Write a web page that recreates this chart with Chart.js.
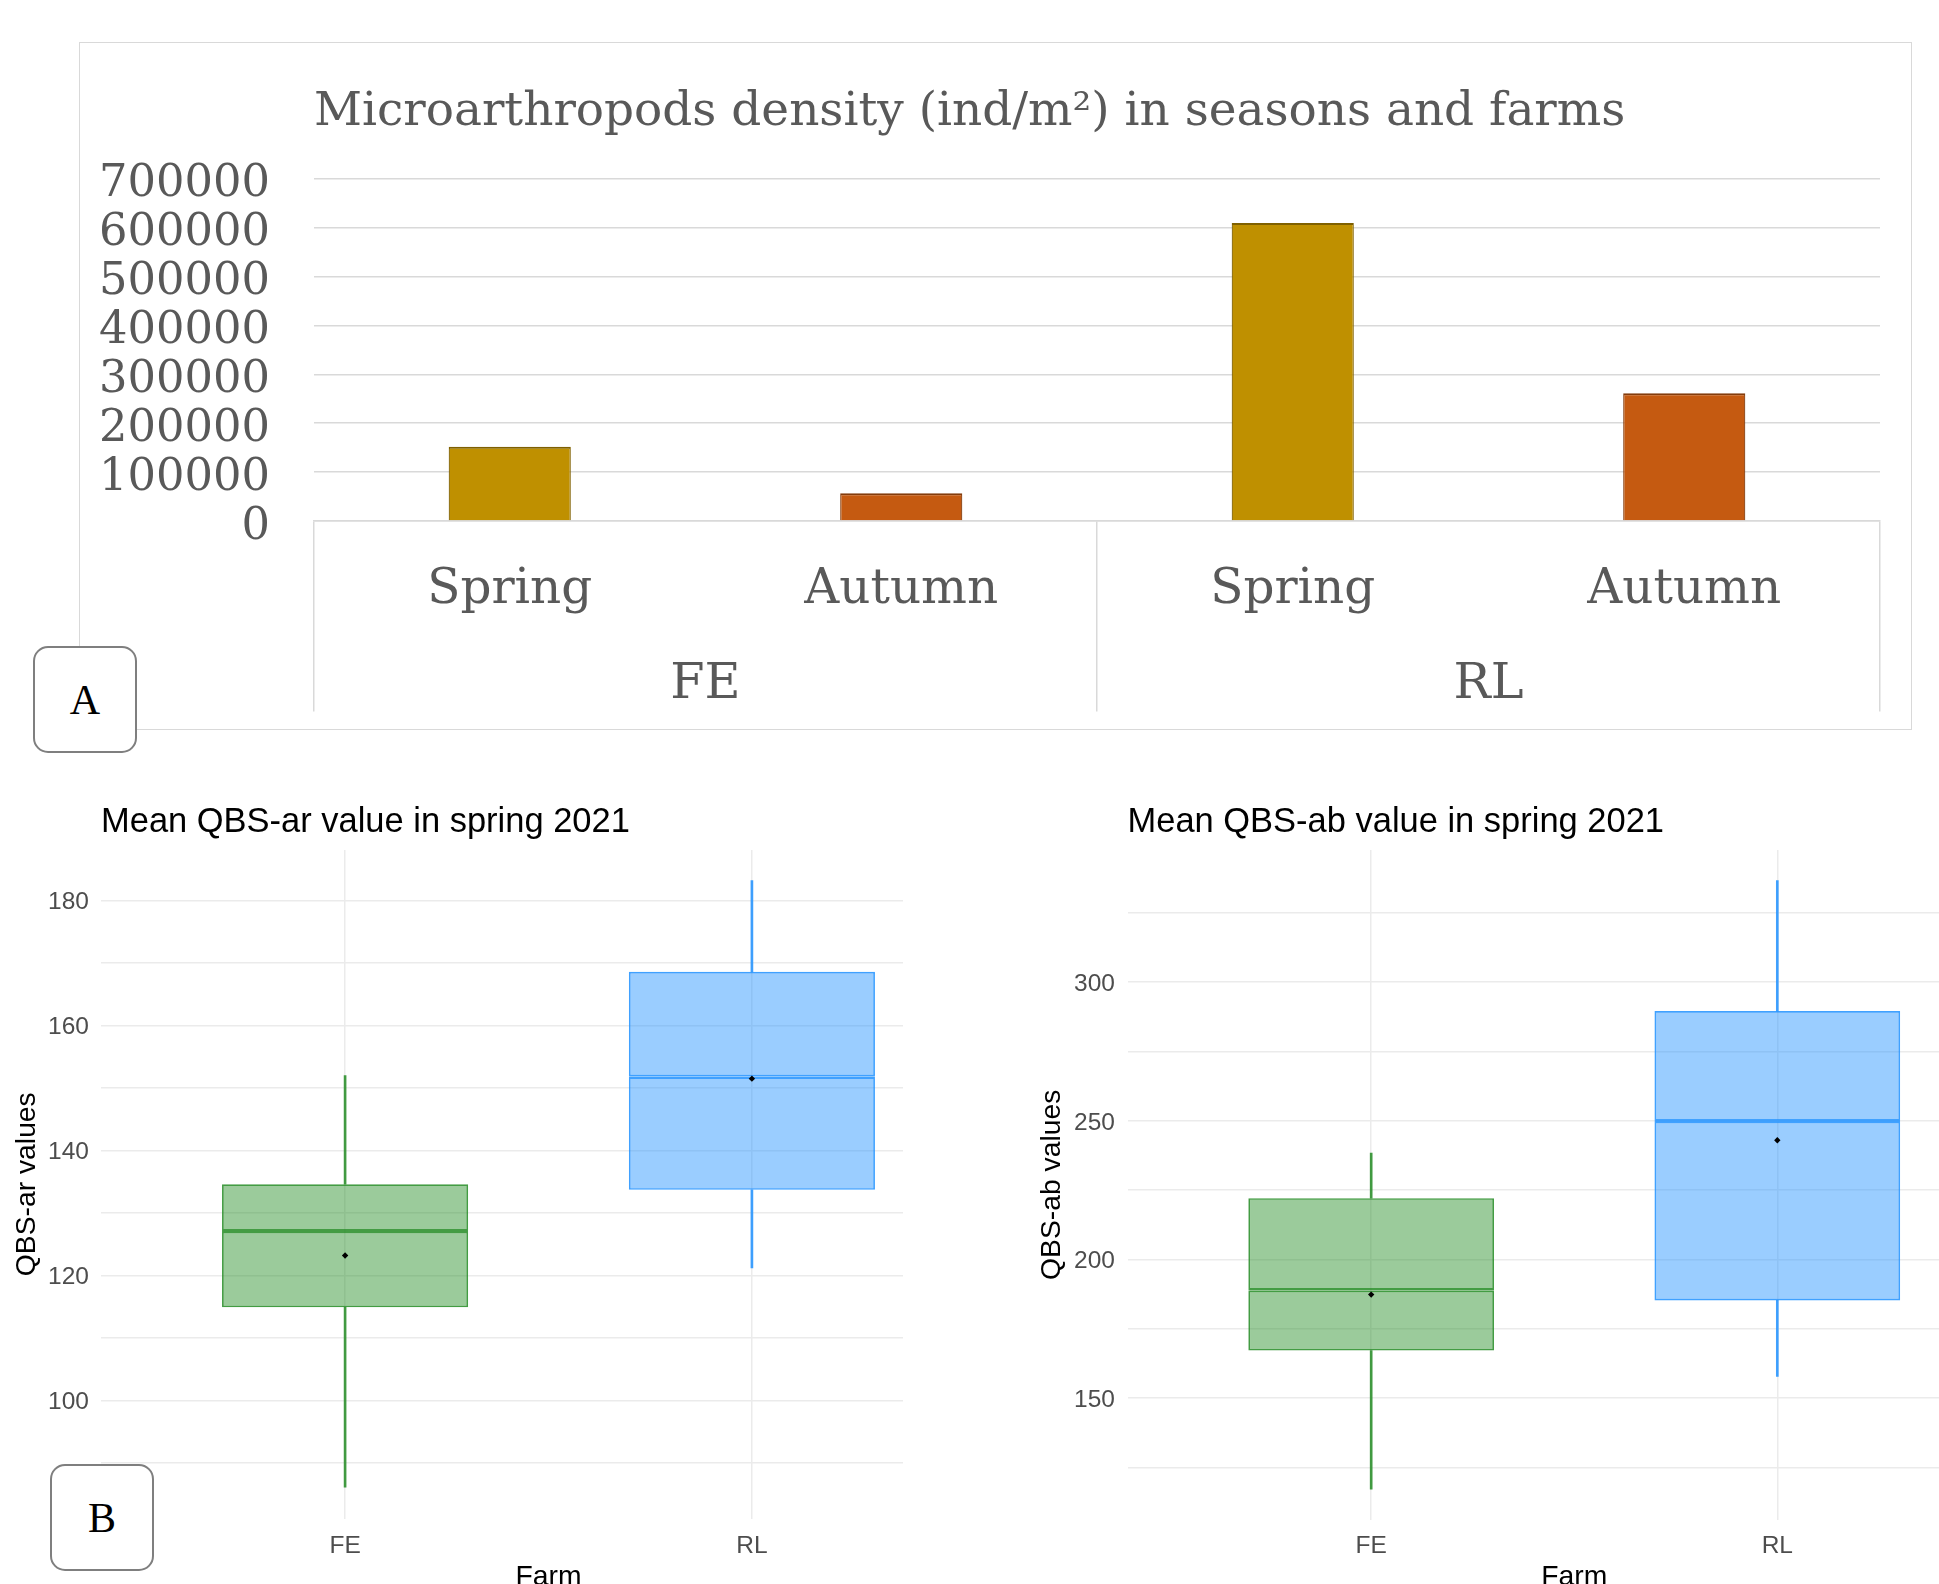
<!DOCTYPE html>
<html>
<head>
<meta charset="utf-8">
<script src="https://cdn.jsdelivr.net/npm/chart.js@4.4.1/dist/chart.umd.min.js"></script>
<style>
  html, body { margin: 0; padding: 0; background: #ffffff; }
  body { width: 1939px; height: 1584px; overflow: hidden; position: relative; }
  .abs { position: absolute; }
  #frameA { left: 79px; top: 42px; width: 1833px; height: 688px; border: 1.5px solid #d9d9d9; box-sizing: border-box; }
  .tag { position: absolute; border: 2.5px solid #7f7f7f; border-radius: 15px; background: #fff; box-sizing: border-box;
         display: flex; align-items: center; justify-content: center;
         font-family: "Liberation Serif", "Times New Roman", serif; font-size: 42px; color: #000; }
  #clipL { left: 0; top: 780px; width: 903px; height: 804px; overflow: hidden; }
  #clipR { left: 1010px; top: 780px; width: 929px; height: 804px; overflow: hidden; }
</style>
</head>
<body>
<div id="frameA" class="abs"></div>
<canvas id="chartA" class="abs" width="1831" height="686" style="left:80px;top:43px;"></canvas>
<div class="tag" style="left:33px;top:646px;width:104px;height:107px;">A</div>
<div id="clipL" class="abs"><canvas id="chartBL" width="1000" height="830" style="position:absolute;left:0;top:0;"></canvas></div>
<div id="clipR" class="abs"><canvas id="chartBR" width="997" height="830" style="position:absolute;left:18px;top:0;"></canvas></div>
<div class="tag" style="left:50px;top:1464px;width:104px;height:107px;">B</div>

<script>
// ================= DATA =================
// Panel A: microarthropod density (ind/m²)
const densitySeasons = ['Spring', 'Autumn', 'Spring', 'Autumn'];
const densityFarms = ['FE', 'RL'];
const densityValues = [152000, 56500, 609500, 261000];
const densityAxis = [0, 700000, 100000];           // min, max, step

// Panel B: boxplots per farm
const boxFarms = ['FE', 'RL'];
const arMin    = [86.1, 121.2];
const arQ1     = [114.9, 133.7];
const arMedian = [127.1, 151.8];
const arQ3     = [134.6, 168.6];
const arMax    = [152.0, 183.2];
const arMean   = [123.2, 151.5];
const arAxis   = [81.1, 188.1, 10, 20];            // min, max, grid step, label step

const abMin    = [117.1, 157.8];
const abQ1     = [167.1, 185.2];
const abMedian = [188.9, 249.9];
const abQ3     = [222.1, 289.6];
const abMax    = [238.4, 336.7];
const abMean   = [187.3, 243.0];
const abAxis   = [106.1, 347.7, 25, 50];

// ================= HELPERS =================
const mctx = document.createElement('canvas').getContext('2d');
function fitSize(text, family, width, weight) {
  mctx.font = (weight || 'normal') + ' 100px ' + family;
  return 100 * width / mctx.measureText(text).width;
}

// ================= PANEL A =================
const serif = '"DejaVu Serif", serif';
const greyA = '#595959';
const gridA = '#d9d9d9';
const titleA = 'Microarthropods density (ind/m²) in seasons and farms';
const titleASize = fitSize(titleA, serif, 1312);
const yASize = fitSize('700000', serif, 171);
const catSize = fitSize('Autumn', serif, 194);
const farmSize = fitSize('RL', serif, 70);

const seasonFill = { Spring: '#BF9000', Autumn: '#C55A11' };
const seasonLine = { Spring: '#7F6000', Autumn: '#843C0C' };

// geometry in canvas coordinates (canvas at 80,43)
const aOff = { x: 80, y: 43 };
const aArea = { left: 314 - aOff.x, right: 1880 - aOff.x, top: 178.7 - aOff.y, bottom: 521 - aOff.y };
const aW = 1831, aH = 686;
const tALH = titleASize * 1.2;
const tACenter = (129.4 - 0.346 * titleASize) - aOff.y;
const tAPadTop = tACenter - tALH / 2;
const tAPadBot = aArea.top - tAPadTop - tALH;
const sepLen = 711.5 - 521;
const xAHeight = 100;
const catCenter = (607 - 0.346 * catSize) - aOff.y;
const catPad = catCenter - aArea.bottom - sepLen - catSize * 1.2 / 2;
const farmCenter = (694.5 - 0.346 * farmSize) - aOff.y;
const farmPad = farmCenter - (aArea.bottom + xAHeight) - farmSize * 1.2 / 2;

new Chart(document.getElementById('chartA'), {
  type: 'bar',
  data: {
    labels: densitySeasons,
    datasets: [{
      data: densityValues,
      backgroundColor: densitySeasons.map(s => seasonFill[s]),
      borderColor: densitySeasons.map(s => seasonLine[s]),
      borderWidth: { top: 2, left: 1.2, right: 1.2, bottom: 0 },
      borderSkipped: false,
      categoryPercentage: 1,
      barPercentage: 0.312
    }]
  },
  options: {
    responsive: false, animation: false, devicePixelRatio: 1,
    layout: { padding: { left: 0, right: aW - aArea.right, top: 0, bottom: 0 } },
    plugins: {
      legend: { display: false }, tooltip: { enabled: false },
      title: {
        display: true, text: titleA, align: 'start', fullSize: false, color: greyA,
        font: { family: serif, size: titleASize, weight: 'normal' },
        padding: { top: tAPadTop, bottom: tAPadBot }
      }
    },
    scales: {
      y: {
        min: densityAxis[0], max: densityAxis[1],
        ticks: { stepSize: densityAxis[2], autoSkip: false, color: greyA, padding: 44, labelOffset: 6,
                 font: { family: serif, size: yASize }, callback: v => String(v) },
        grid: { color: gridA, lineWidth: 1.5, drawTicks: false },
        border: { display: false },
        afterFit: s => { s.width = aArea.left; }
      },
      x: {
        type: 'category', offset: true, weight: 0,
        grid: { offset: true, drawOnChartArea: false, drawTicks: true, tickLength: sepLen,
                color: c => (c.index === 1 || c.index === 3) ? 'rgba(0,0,0,0)' : gridA, lineWidth: 1.5 },
        border: { display: true, color: gridA, width: 1.5 },
        ticks: { color: greyA, font: { family: serif, size: catSize }, padding: catPad, maxRotation: 0, autoSkip: false },
        afterFit: s => { s.height = xAHeight; }
      },
      x2: {
        type: 'category', labels: densityFarms, position: 'bottom', offset: true, weight: 1,
        grid: { display: false }, border: { display: false },
        ticks: { color: greyA, font: { family: serif, size: farmSize }, padding: farmPad, maxRotation: 0, autoSkip: false },
        afterFit: s => { s.height = aH - aArea.bottom - xAHeight; }
      }
    }
  }
});

// ================= PANEL B =================
const sans = '"Liberation Sans", Arial, sans-serif';
const titleBSize = fitSize('Mean QBS-ar value in spring 2021', sans, 529);
const tickBSize = 24.5;
const axTitleBSize = 28.3;
const boxFill = ['rgba(34,139,34,0.45)', 'rgba(30,144,255,0.45)'];
const boxLine = ['rgba(34,139,34,0.85)', 'rgba(30,144,255,0.85)'];
const gridB = '#ebebeb';

function boxChart(id, stats, axis, title, yTitle, geo) {
  const seg = (lo, hi) => boxFarms.map((f, i) => ({ x: i + 1, y: [lo[i], hi[i]] }));
  const tLH = titleBSize * 1.2;
  const tPadTop = geo.titleCenter - tLH / 2;
  const tPadBot = geo.top - tPadTop - tLH;
  const xTickPad = geo.xTickCenter - geo.bottom - tickBSize * 1.2 / 2;
  const xTitlePad = geo.h - geo.xTitleCenter - axTitleBSize * 1.2 / 2;
  const yTitlePad = geo.yTitleCenter - axTitleBSize * 1.2 / 2;
  const boxCommon = { type: 'bar', backgroundColor: boxFill, borderColor: boxLine,
                      borderSkipped: false, barPercentage: 0.605, categoryPercentage: 1, grouped: false };
  const whiskCommon = { type: 'bar', backgroundColor: boxLine, borderWidth: 0, barThickness: 2, grouped: false };
  new Chart(document.getElementById(id), {
    type: 'bar',
    data: {
      datasets: [
        { type: 'scatter', data: boxFarms.map((f, i) => ({ x: i + 1, y: stats.mean[i] })),
          pointStyle: 'rectRot', pointRadius: 3.2, backgroundColor: '#000', borderColor: '#000', borderWidth: 0 },
        Object.assign({ data: seg(stats.q1, stats.median),
                        borderWidth: { top: 2.1, left: 1.7, right: 1.7, bottom: 1.7 } }, boxCommon),
        Object.assign({ data: seg(stats.median, stats.q3),
                        borderWidth: { top: 1.7, left: 1.7, right: 1.7, bottom: 2.1 } }, boxCommon),
        Object.assign({ data: seg(stats.min, stats.q1) }, whiskCommon),
        Object.assign({ data: seg(stats.q3, stats.max) }, whiskCommon)
      ]
    },
    options: {
      responsive: false, animation: false, devicePixelRatio: 1,
      layout: { padding: { left: 0, right: geo.w - geo.right, top: 0, bottom: 0 } },
      plugins: {
        legend: { display: false }, tooltip: { enabled: false },
        title: { display: true, text: title, align: 'start', fullSize: false, color: '#000',
                 font: { family: sans, size: titleBSize, weight: 'normal' },
                 padding: { top: tPadTop, bottom: tPadBot } }
      },
      scales: {
        x: {
          type: 'linear', min: 0.4, max: 2.6, offset: false,
          ticks: { stepSize: 1, includeBounds: false, color: '#4d4d4d', padding: xTickPad,
                   font: { family: sans, size: tickBSize }, callback: v => boxFarms[v - 1] || '' },
          grid: { offset: false, color: gridB, lineWidth: 1.5, drawTicks: false },
          border: { display: false },
          title: { display: true, text: 'Farm', color: '#000', font: { family: sans, size: axTitleBSize },
                   padding: { top: 0, bottom: xTitlePad } },
          afterFit: s => { s.height = geo.h - geo.bottom; }
        },
        y: {
          min: axis[0], max: axis[1],
          ticks: { stepSize: axis[2], includeBounds: false, autoSkip: false, color: '#4d4d4d', padding: geo.yTickPad,
                   labelOffset: 2, font: { family: sans, size: tickBSize },
                   callback: v => (Math.round(v) % axis[3] === 0 ? String(v) : '') },
          grid: { color: gridB, lineWidth: 1.5, drawTicks: false },
          border: { display: false },
          title: { display: true, text: yTitle, color: '#000', font: { family: sans, size: axTitleBSize },
                   padding: { top: yTitlePad, bottom: 0 } },
          afterFit: s => { s.width = geo.left; }
        }
      }
    }
  });
}

boxChart('chartBL',
  { min: arMin, q1: arQ1, median: arMedian, q3: arQ3, max: arMax, mean: arMean },
  arAxis, 'Mean QBS-ar value in spring 2021', 'QBS-ar values',
  { w: 1000, h: 830, left: 101, right: 998.6, top: 70, bottom: 738.5,
    titleCenter: 42, xTickCenter: 766, xTitleCenter: 797, yTitleCenter: 27, yTickPad: 12 });

boxChart('chartBR',
  { min: abMin, q1: abQ1, median: abMedian, q3: abQ3, max: abMax, mean: abMean },
  abAxis, 'Mean QBS-ab value in spring 2021', 'QBS-ab values',
  { w: 997, h: 830, left: 99.5, right: 997, top: 70, bottom: 739.7,
    titleCenter: 42, xTickCenter: 766, xTitleCenter: 797, yTitleCenter: 23.7, yTickPad: 12.5 });
</script>
</body>
</html>
